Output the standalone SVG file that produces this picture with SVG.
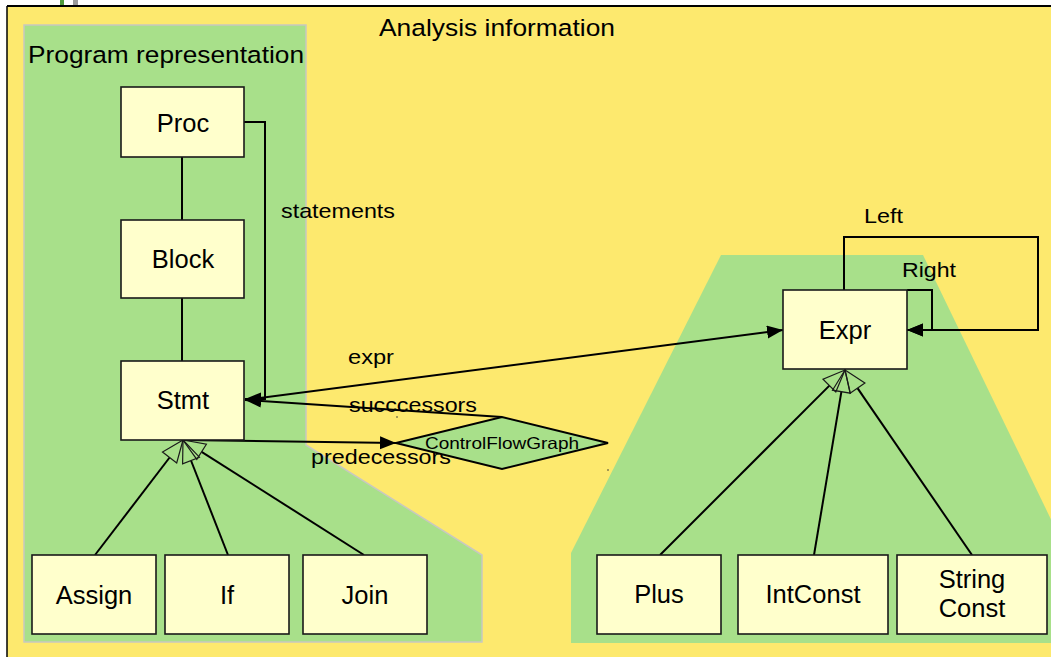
<svg xmlns="http://www.w3.org/2000/svg" width="1051" height="657" viewBox="0 0 1051 657">
  <style>
    .box { fill: #ffffcc; stroke: #1a1a1a; stroke-width: 1.6; }
    .lbl { font-family: "Liberation Sans", Arial, sans-serif; font-size: 25.5px; fill: #000; text-anchor: middle; }
    .role { font-family: "Liberation Sans", Arial, sans-serif; font-size: 21px; fill: #000; }
    .title { font-family: "Liberation Sans", Arial, sans-serif; font-size: 24.5px; fill: #000; }
    .edge { fill: none; stroke: #000; stroke-width: 2; }
    .gen { fill: none; stroke: #1a1a1a; stroke-width: 1.2; }
  </style>
  <defs>
    <marker id="arrow" markerUnits="userSpaceOnUse" markerWidth="18" markerHeight="14" refX="16" refY="6.5" orient="auto">
      <path d="M0,0 L16,6.5 L0,13 Z" fill="#000"/>
    </marker>
  </defs>

  <!-- page background and frame -->
  <rect x="0" y="0" width="1051" height="657" fill="#ffffff"/>
  <rect x="60" y="0" width="4" height="6" fill="#4f9a3c"/>
  <rect x="73" y="0" width="5" height="6" fill="#9a9a9a"/>
  <g id="analysis-information">
    <rect x="7" y="6" width="1060" height="660" fill="#fde96e"/>
    <line x1="7" y1="6" x2="1051" y2="6" stroke="#000" stroke-width="2"/>
    <line x1="7" y1="6" x2="7" y2="657" stroke="#000" stroke-width="1.5"/>
    <text class="title" x="379" y="36" textLength="236" lengthAdjust="spacingAndGlyphs">Analysis information</text>
  </g>

  <!-- program representation region -->
  <g id="program-representation">
    <polygon points="24,25 306,25 306,445 482,555 482,642 24,642" fill="#a8e08a" stroke="#c8c8c0" stroke-width="1.5"/>
    <text class="title" x="28" y="63" textLength="276" lengthAdjust="spacingAndGlyphs">Program representation</text>
  </g>

  <!-- expression region -->
  <g id="expression-region">
    <polygon points="721,255 923,255 1060,538 1060,643 571,643 571,553" fill="#a8e08a"/>
  </g>

  <!-- connectors -->
  <g id="connectors">
    <line class="edge" x1="182" y1="157" x2="182" y2="220"/>
    <line class="edge" x1="182" y1="298" x2="182" y2="361"/>
    <polyline class="edge" points="244,122 265,122 265,399 245,399" marker-end="url(#arrow)"/>
    <line class="edge" x1="245" y1="400" x2="783" y2="330" marker-end="url(#arrow)"/>
    <line class="edge" x1="502" y1="417" x2="245" y2="400" marker-end="url(#arrow)"/>
    <line class="edge" x1="183" y1="440" x2="396" y2="443" marker-end="url(#arrow)"/>
    <polyline class="edge" points="844,290 844,237 1038,237 1038,330 907,330" marker-end="url(#arrow)"/>
    <polyline class="edge" points="907,290 932,290 932,330 907,330" marker-end="url(#arrow)"/>

    <!-- generalization of Stmt -->
    <line class="edge" x1="169.6" y1="457.5" x2="95" y2="555"/>
    <line class="edge" x1="191" y1="460.5" x2="228" y2="555"/>
    <line class="edge" x1="201.6" y1="451.8" x2="364" y2="555"/>
    <polygon class="gen" points="183,440 176.7,463 162.5,452"/>
    <polygon class="gen" points="183,440 199.4,457.2 182.6,463.8"/>
    <polygon class="gen" points="183,440 206.4,444.2 196.8,459.4"/>

    <!-- generalization of Expr -->
    <line class="edge" x1="829.4" y1="385.6" x2="660" y2="555"/>
    <line class="edge" x1="841.4" y1="391.7" x2="814" y2="555"/>
    <line class="edge" x1="857.5" y1="388.1" x2="972" y2="555"/>
    <polygon class="gen" points="845,370 835.8,392 823,379.2"/>
    <polygon class="gen" points="845,370 850.3,393.2 832.5,390.2"/>
    <polygon class="gen" points="845,370 864.9,383 850.1,393.2"/>

    <text class="role" x="281" y="218" textLength="114" lengthAdjust="spacingAndGlyphs">statements</text>
    <text class="role" x="348" y="364" textLength="46" lengthAdjust="spacingAndGlyphs">expr</text>
    <text class="role" x="349" y="412" textLength="128" lengthAdjust="spacingAndGlyphs">succcessors</text>
    <text class="role" x="311" y="464" textLength="140" lengthAdjust="spacingAndGlyphs">predecessors</text>
    <text class="role" x="864" y="223" textLength="39" lengthAdjust="spacingAndGlyphs">Left</text>
    <text class="role" x="902" y="277" textLength="54" lengthAdjust="spacingAndGlyphs">Right</text>
    <circle cx="397" cy="417" r="0.8" fill="#333"/>
    <circle cx="608" cy="470" r="0.8" fill="#333"/>
  </g>

  <!-- nodes -->
  <g id="proc">
    <rect class="box" x="121" y="87" width="123" height="70"/>
    <text class="lbl" x="183" y="132">Proc</text>
  </g>
  <g id="block">
    <rect class="box" x="121" y="220" width="123" height="78"/>
    <text class="lbl" x="183" y="268">Block</text>
  </g>
  <g id="stmt">
    <rect class="box" x="121" y="361" width="123" height="79"/>
    <text class="lbl" x="183" y="409">Stmt</text>
  </g>
  <g id="assign">
    <rect class="box" x="32" y="555" width="124" height="79"/>
    <text class="lbl" x="94" y="604">Assign</text>
  </g>
  <g id="if">
    <rect class="box" x="165" y="555" width="124" height="79"/>
    <text class="lbl" x="227" y="604">If</text>
  </g>
  <g id="join">
    <rect class="box" x="303" y="555" width="124" height="79"/>
    <text class="lbl" x="365" y="604">Join</text>
  </g>
  <g id="control-flow-graph">
    <polygon points="396,443 502,417 608,443 502,469" fill="#a8e08a" stroke="#000" stroke-width="2"/>
    <text class="role" x="502" y="449" text-anchor="middle" style="font-size:16.5px" textLength="154" lengthAdjust="spacingAndGlyphs">ControlFlowGraph</text>
  </g>
  <g id="expr">
    <rect class="box" x="783" y="290" width="124" height="79"/>
    <text class="lbl" x="845" y="339">Expr</text>
  </g>
  <g id="plus">
    <rect class="box" x="597" y="555" width="124" height="79"/>
    <text class="lbl" x="659" y="603">Plus</text>
  </g>
  <g id="intconst">
    <rect class="box" x="738" y="555" width="150" height="79"/>
    <text class="lbl" x="813" y="603">IntConst</text>
  </g>
  <g id="stringconst">
    <rect class="box" x="897" y="555" width="150" height="79"/>
    <text class="lbl" x="972" y="588">String</text>
    <text class="lbl" x="972" y="617">Const</text>
  </g>
</svg>
